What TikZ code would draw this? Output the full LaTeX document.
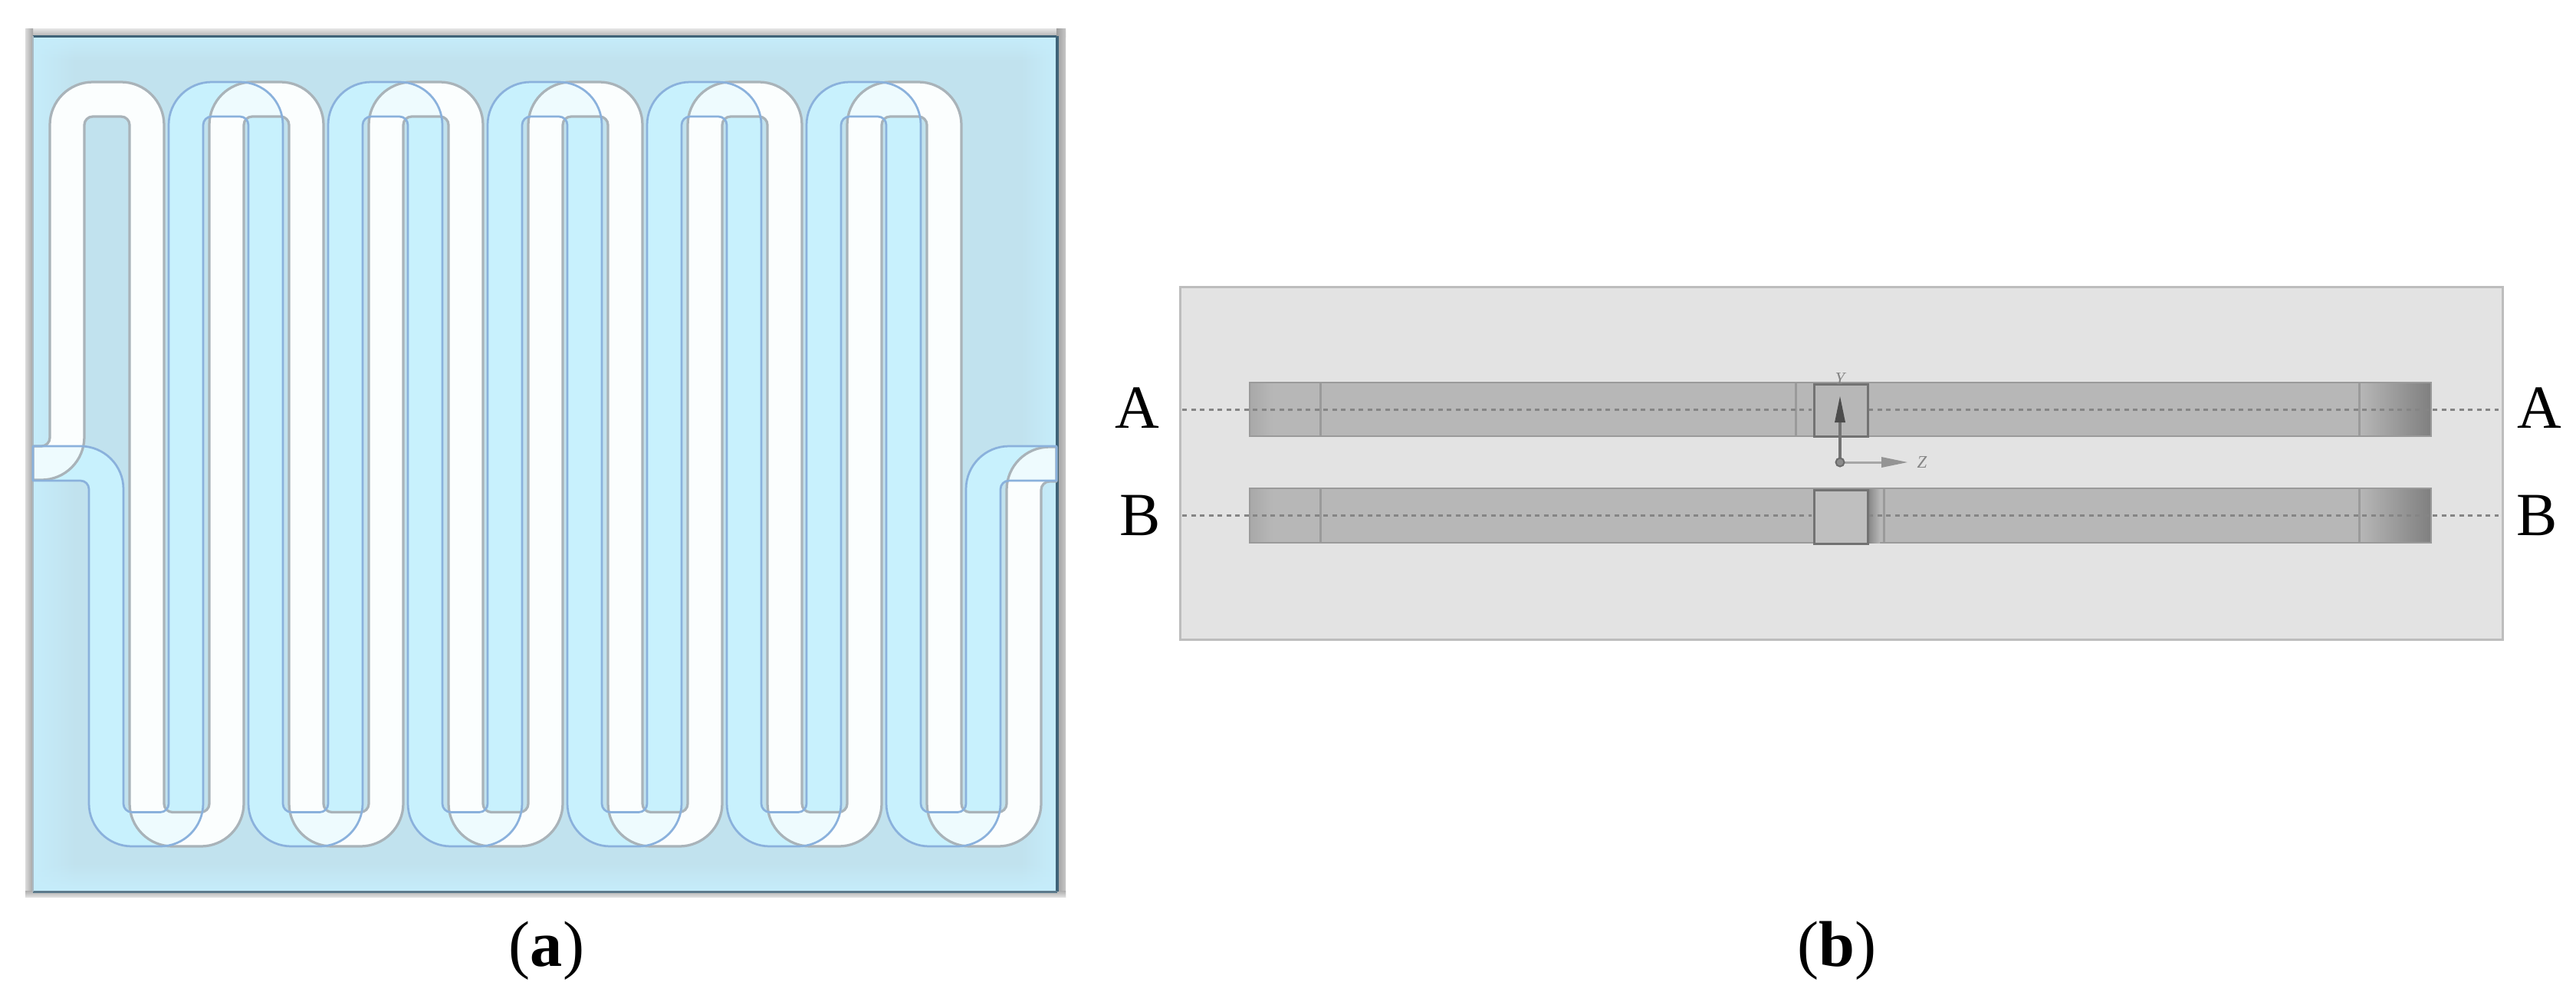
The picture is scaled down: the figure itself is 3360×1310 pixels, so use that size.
\documentclass[tikz,border=0pt]{standalone}
\usepackage{fontspec}
\usetikzlibrary{fadings}
\setmainfont{Liberation Serif}
\definecolor{bgmid}{HTML}{C1E2EE}
\definecolor{bgedge}{HTML}{C6EDFB}
\definecolor{chblue}{HTML}{C8F1FD}
\definecolor{chwhite}{HTML}{FBFEFE}
\definecolor{chover}{HTML}{EEFBFE}
\definecolor{lnblue}{HTML}{8AB1DC}
\definecolor{lngrey}{HTML}{A9B3B9}
\definecolor{framedark}{HTML}{3F6378}
\definecolor{panelb}{HTML}{E3E3E3}
\definecolor{panelline}{HTML}{BDBDBD}
\definecolor{barfill}{HTML}{B7B7B7}
\definecolor{barline}{HTML}{9A9A9A}
\definecolor{boxline}{HTML}{727272}
\definecolor{dashc}{HTML}{858585}
\tikzset{
  x=0.2mm,y=-0.2mm,
  greyline/.style={draw=lngrey,line width=0.65mm,line join=round},
  blueline/.style={draw=lnblue,line width=0.55mm,line join=round},
  secline/.style={draw=dashc,line width=0.6mm,dash pattern=on 1.2mm off 1.1mm},
  bardiv/.style={draw=barline,line width=0.6mm},
  bigletter/.style={inner sep=0pt,font=\fontsize{45.5}{50}\selectfont},
  sublabel/.style={inner sep=0pt,font=\fontsize{48}{54}\selectfont},
  axislabel/.style={inner sep=0pt,text=dashc,font=\itshape\fontsize{13}{14}\selectfont},
}
% white channel outline
\def\whitepath{(43,582) -- (54,582) arc[start angle=90,end angle=0,radius=11]
  \foreach \k in {0,1,2,3,4} {
    -- ({65+208*\k},163) arc[start angle=180,end angle=270,radius=56]
    -- ({65+208*\k+93},107) arc[start angle=270,end angle=360,radius=56]
    -- ({65+208*\k+149},1048.5) arc[start angle=180,end angle=90,radius=11]
    -- ({65+208*\k+197},1059.5) arc[start angle=90,end angle=0,radius=11]
  }
  -- (1105,163) arc[start angle=180,end angle=270,radius=56]
  -- (1198,107) arc[start angle=270,end angle=360,radius=56]
  -- (1254,1048.5) arc[start angle=180,end angle=90,radius=11]
  -- (1302,1059.5) arc[start angle=90,end angle=0,radius=11]
  -- (1313,639) arc[start angle=180,end angle=270,radius=56]
  -- (1378,583) -- (1378,628) -- (1369,628) arc[start angle=270,end angle=180,radius=11]
  -- (1358,1048) arc[start angle=0,end angle=90,radius=56]
  -- (1265,1104) arc[start angle=90,end angle=180,radius=56]
  \foreach \k in {5,4,3,2,1} {
    -- ({65+208*\k+104},163) arc[start angle=360,end angle=270,radius=11]
    -- ({65+208*\k+56},152) arc[start angle=270,end angle=180,radius=11]
    -- ({65+208*\k+45},1048) arc[start angle=0,end angle=90,radius=56]
    -- ({65+208*\k-48},1104) arc[start angle=90,end angle=180,radius=56]
  }
  -- (169,163) arc[start angle=360,end angle=270,radius=11]
  -- (121,152) arc[start angle=270,end angle=180,radius=11]
  -- (110,570) arc[start angle=0,end angle=90,radius=56]
  -- (43,626) -- cycle}
% blue channel outline
\def\bluepath{(43,582) -- (105,582) arc[start angle=270,end angle=360,radius=56]
  -- (161,1048.5) arc[start angle=180,end angle=90,radius=11]
  -- (209,1059.5) arc[start angle=90,end angle=0,radius=11]
  \foreach \k in {0,1,2,3,4} {
    -- ({220+208*\k},163) arc[start angle=180,end angle=270,radius=56]
    -- ({220+208*\k+93},107) arc[start angle=270,end angle=360,radius=56]
    -- ({220+208*\k+149},1048.5) arc[start angle=180,end angle=90,radius=11]
    -- ({220+208*\k+197},1059.5) arc[start angle=90,end angle=0,radius=11]
  }
  -- (1260,638) arc[start angle=180,end angle=270,radius=56]
  -- (1378,582) -- (1378,627) -- (1316,627) arc[start angle=270,end angle=180,radius=11]
  -- (1305,1048) arc[start angle=0,end angle=90,radius=56]
  -- (1212,1104) arc[start angle=90,end angle=180,radius=56]
  \foreach \k in {4,3,2,1,0} {
    -- ({220+208*\k+104},163) arc[start angle=360,end angle=270,radius=11]
    -- ({220+208*\k+56},152) arc[start angle=270,end angle=180,radius=11]
    -- ({220+208*\k+45},1048) arc[start angle=0,end angle=90,radius=56]
    -- ({220+208*\k-48},1104) arc[start angle=90,end angle=180,radius=56]
  }
  -- (116,638) arc[start angle=360,end angle=270,radius=11]
  -- (43,627) -- cycle}
\begin{document}
\begin{tikzpicture}
\useasboundingbox (0,0) rectangle (3360,1310);
\fill[white] (0,0) rectangle (3360,1310);
% ---------- panel (a): frame bevel
\shade[top color=black!10,bottom color=black!32] (33,37) rectangle (1390,48);
\shade[left color=black!14,right color=black!36] (33,37) rectangle (43,1170);
\shade[left color=black!38,right color=black!22] (1378,37) rectangle (1390,1170);
\shade[top color=black!32,bottom color=black!12] (33,1162) rectangle (1390,1170);
% ---------- panel (a): background
\fill[bgmid] (43,47) rectangle (1378,1162);
\fill[bgedge,path fading=east] (43,47) rectangle (100,1162);
\fill[bgedge,path fading=west] (1330,47) rectangle (1378,1162);
\fill[bgedge,path fading=south] (43,47) rectangle (1378,80);
\fill[bgedge,path fading=north] (43,1125) rectangle (1378,1162);
\draw[framedark,line width=0.6mm] (43,47.5) -- (1378,47.5);
\draw[framedark,line width=0.7mm] (1379,47) -- (1379,1163);
\draw[framedark!85,line width=0.6mm] (43,1163) -- (1379,1163);
\draw[framedark!45,line width=0.5mm] (43,47) -- (43,1163);
% ---------- panel (a): channels
\fill[chblue] \bluepath;
\fill[chwhite] \whitepath;
\begin{scope}
  \clip \bluepath;
  \fill[chover] \whitepath;
\end{scope}
\path[greyline] \whitepath;
\path[blueline] \bluepath;
% ---------- panel (b)
\node[draw=panelline,fill=panelb,line width=0.6mm,minimum width=344.9mm,minimum height=92mm,inner sep=0pt,anchor=north west] (cell) at (1538,373) {};
\coordinate (aL) at (1542,534);
\coordinate (aR) at (3259,534);
\coordinate (bL) at (1542,672);
\coordinate (bR) at (3259,672);
\foreach \yt/\yb/\nm in {499/569/A,637/708/B} {
  \fill[barfill] (1630,\yt) rectangle (3171,\yb);
  \shade[left color=black!34,right color=barfill] (1630,\yt) rectangle (1660,\yb);
  \shade[left color=barfill,middle color=black!32,right color=black!50] (3077,\yt) rectangle (3171,\yb);
  \draw[barline,line width=0.5mm] (1630,\yt) rectangle (3171,\yb);
  \draw[bardiv] (1722,\yt) -- (1722,\yb);
  \draw[bardiv] (3077,\yt) -- (3077,\yb);
}
\draw[bardiv] (2342,499) -- (2342,569);
\shade[left color=black!50,right color=barfill] (2435,638) rectangle (2452,708);
\draw[bardiv] (2457,637) -- (2457,708);
\draw[secline] (aL) -- (2363,534);
\draw[secline] (2437,534) -- (aR);
\draw[secline] (bL) -- (2363,672);
\draw[secline] (2437,672) -- (bR);
\node[draw=boxline,fill=barfill,line width=0.6mm,minimum width=14mm,minimum height=13.6mm,inner sep=0pt,anchor=north west] (boxA) at (2365,500) {};
\node[fill=black!25,draw=boxline,line width=0.5mm,minimum width=14mm,minimum height=14mm,inner sep=0pt,anchor=north west] (boxB) at (2365,638) {};
% axes
\coordinate (orig) at (2400,603);
\coordinate (ytip) at (2400,517);
\coordinate (ztip) at (2488,603);
\draw[black!55,line width=0.8mm] (orig) -- (2400,550);
\fill[black!70] (ytip) -- (2407,551) -- (2393,551) -- cycle;
\draw[black!35,line width=0.6mm] (orig) -- (2456,603);
\fill[black!42] (ztip) -- (2454,596) -- (2454,610) -- cycle;
\fill[black!45,draw=black!58,line width=0.4mm] (orig) circle[radius=5.5];
\node[axislabel,anchor=center] (ylab) at (2400,494) {Y};
\node[axislabel,anchor=center] (zlab) at (2507,603) {Z};
% letters
\node[bigletter,anchor=center] (leftA) at (1483,532) {A};
\node[bigletter,anchor=center] (leftB) at (1487,672) {B};
\node[bigletter,anchor=center] (rightA) at (3312,532) {A};
\node[bigletter,anchor=center] (rightB) at (3309,672) {B};
\node[sublabel,anchor=center] (capA) at (713,1240) {(\textbf{a})};
\node[sublabel,anchor=center] (capB) at (2396,1240) {(\textbf{b})};
\end{tikzpicture}
\end{document}
